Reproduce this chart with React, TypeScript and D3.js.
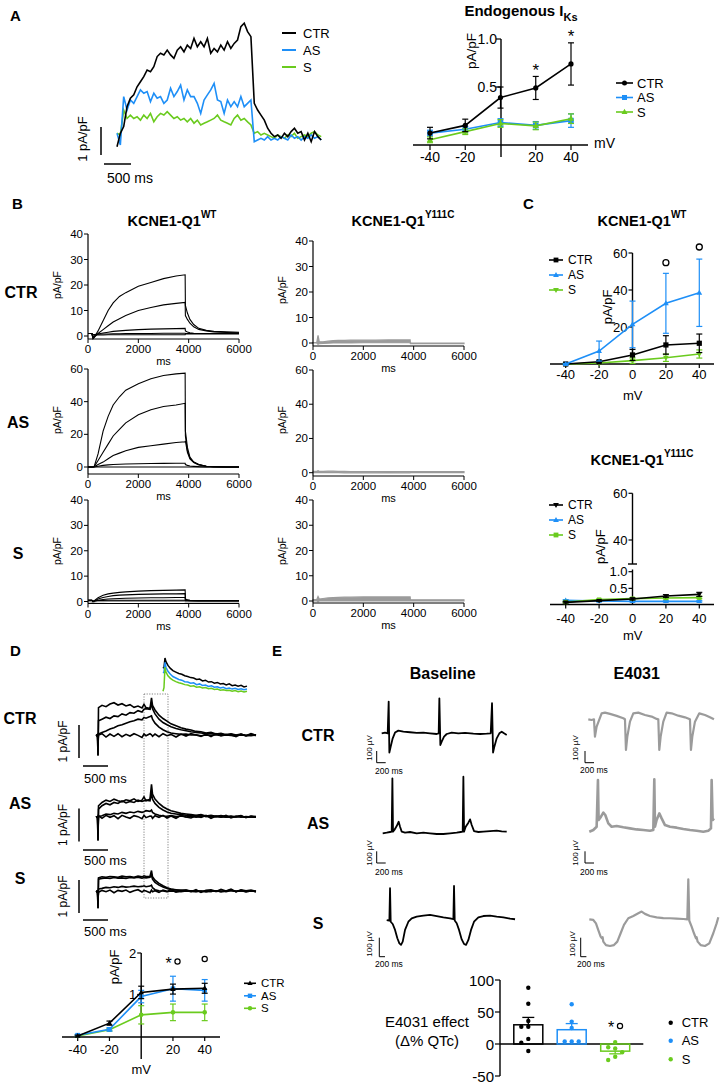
import React from "react";
import * as d3 from "d3";

const FONT = "'Liberation Sans', Arial, Helvetica, sans-serif";
const BLACK = "#000000";
const BLUE = "#1e8ff7";
const GREEN = "#6acb1e";
const GRAY = "#9b9b9b";

// ---------------- Panel A: endogenous IKs traces (pA/pF, sampled every 62 ms) ----------------
const A_STEP_MS = 62;
const A_TRACE_CTR = [-0.24, 0.24, 0.48, 1.19, 1.49, 1.61, 1.9, 2.08, 2.26, 2.5, 2.44, 2.62, 2.98, 3.1, 3.04, 3.21, 3.04, 2.92, 3.21, 3.33, 3.15, 3.39, 3.27, 3.63, 3.33, 3.51, 3.33, 3.63, 3.1, 3.27, 3.15, 3.39, 3.21, 3.51, 3.27, 3.45, 3.57, 4.05, 4.17, 3.87, 3.69, 1.31, 1.07, 0.89, 0.71, 0.42, 0.24, 0.12, 0.18, 0.06, 0.24, 0.12, 0.3, 0.42, 0.24, 0.3, 0, 0.24, -0.06, 0.3, 0.12, 0];
const A_TRACE_AS = [0.24, -0.18, 1.55, 1.07, 1.43, 1.31, 1.55, 1.79, 1.67, 1.73, 1.37, 1.67, 1.49, 1.55, 1.31, 1.43, 1.85, 1.55, 1.73, 1.96, 1.43, 1.79, 1.55, 1.55, 1.31, 0.95, 1.43, 1.61, 1.79, 2.02, 1.43, 1.37, 0.95, 1.43, 1.19, 1.37, 1.19, 1.55, 1.19, 1.31, 1.43, -0.06, 0, 0.06, 0, 0.12, 0, 0.06, 0, 0.12, 0.06, 0, 0.18, 0.06, 0.12, 0, 0.12, 0.06, 0.18, 0.06, 0.12, 0];
const A_TRACE_S = [0.24, 0.18, 1.07, 0.77, 0.89, 0.77, 0.83, 0.71, 0.89, 0.77, 0.95, 0.65, 0.83, 0.95, 0.89, 1.01, 0.89, 0.77, 0.83, 0.71, 0.77, 0.65, 0.77, 0.6, 0.71, 0.54, 0.6, 0.65, 0.71, 0.77, 0.89, 0.71, 0.65, 0.6, 0.54, 0.77, 0.89, 0.71, 0.77, 0.65, 0.54, 0.24, 0.3, 0.18, 0.24, 0.18, 0.12, 0.06, 0.18, 0.12, 0.06, 0.18, 0.12, 0.24, 0.06, 0.12, 0.18, 0.12, 0.24, 0.3, 0.18, 0.12];

const IV_MV = [-40, -20, 0, 20, 40];
const IV_X_TICKS = [-40, -20, 20, 40];
const A_IV_CTR = [0.02, 0.1, 0.39, 0.49, 0.74];
const A_IV_CTR_ERR = [0.06, 0.065, 0.11, 0.12, 0.22];
const A_IV_AS = [0.02, 0.06, 0.13, 0.1, 0.15];
const A_IV_AS_ERR = [0.03, 0.03, 0.04, 0.04, 0.07];
const A_IV_S = [-0.05, 0.035, 0.12, 0.095, 0.17];
const A_IV_S_ERR = [0.03, 0.03, 0.04, 0.04, 0.05];
const A_Y_TICKS = [0.5, 1.0];

// ---------------- Panel B: KCNQ1 current families (pA/pF) ----------------
const B_T = [0, 150, 200, 250, 400, 600, 800, 1000, 1250, 1500, 2000, 2500, 3000, 3500, 3860, 3870, 3950, 4050, 4200, 4400, 4700, 5000, 5500, 6000];
const B_X_TICKS = [0, 2000, 4000, 6000];
const B_CTR_WT = [
  [1, 1, -1, -0.5, 2, 6, 10, 13, 15.5, 17, 19.5, 21, 22.5, 23.5, 24, 12, 9, 6.5, 4.5, 3, 2.2, 1.8, 1.6, 1.5],
  [1, 1, -1, -0.5, 1, 2.5, 4, 5.5, 6.8, 8, 10, 11.2, 12.2, 12.8, 13.2, 8, 6.5, 5, 3.6, 2.6, 2, 1.6, 1.4, 1.3],
  [1, 1, -0.5, 0, 0.8, 1.2, 1.5, 1.8, 2, 2.2, 2.5, 2.7, 2.8, 2.9, 3, 2, 1.6, 1.3, 1.1, 1, 1, 1, 1, 1],
  [1, 1, 0.5, 0.6, 0.7, 0.8, 0.8, 0.9, 0.9, 1, 1, 1, 1.1, 1.1, 1.1, 1, 1, 1, 1, 1, 1, 1, 1, 1],
  [1, 1, 0.3, 0.4, 0.4, 0.4, 0.5, 0.5, 0.5, 0.5, 0.5, 0.5, 0.5, 0.5, 0.5, 0.8, 0.8, 0.8, 0.8, 0.8, 0.8, 0.8, 0.8, 0.8],
];
const B_AS_WT = [
  [0, 0, 0, 0.5, 8, 22, 31, 38, 43, 47, 51, 54, 56, 57, 57.5, 22, 12, 6, 3, 1.5, 0.5, 0.2, 0, 0],
  [0, 0, 0, 0.3, 4, 9, 14, 19, 23, 27, 32, 35, 37, 38, 39, 19, 10, 5.5, 3, 1.5, 0.5, 0.2, 0, 0],
  [0, 0, 0, 0.2, 1.5, 3, 5, 7, 8.5, 10, 12, 13, 14, 15, 15.5, 16, 9, 5, 2.8, 1.3, 0.5, 0.2, 0, 0],
  [0, 0, 0, 0, 0.5, 1, 1.3, 1.5, 1.7, 1.8, 2, 2.1, 2.2, 2.3, 2.3, 1.5, 1, 0.6, 0.4, 0.2, 0.1, 0, 0, 0],
  [0, 0, 0, 0, 0, 0, 0, 0, 0, 0, 0, 0, 0, 0, 0, 0, 0, 0, 0, 0, 0, 0, 0, 0],
];
const B_S_WT = [
  [0.5, 0.5, 0, 0.3, 1.5, 2.5, 3, 3.3, 3.6, 3.8, 4.1, 4.3, 4.4, 4.5, 4.6, 1, 0.7, 0.5, 0.4, 0.3, 0.3, 0.3, 0.3, 0.3],
  [0.5, 0.5, 0, 0.2, 1, 1.6, 2, 2.3, 2.5, 2.6, 2.8, 2.9, 3, 3, 3.1, 0.8, 0.6, 0.4, 0.3, 0.3, 0.3, 0.3, 0.3, 0.3],
  [0.5, 0.5, 0, 0.1, 0.5, 0.8, 1, 1.1, 1.2, 1.3, 1.4, 1.5, 1.5, 1.6, 1.6, 0.5, 0.4, 0.3, 0.3, 0.3, 0.3, 0.3, 0.3, 0.3],
  [0.5, 0.5, 0.2, 0.3, 0.4, 0.4, 0.5, 0.5, 0.5, 0.5, 0.5, 0.5, 0.5, 0.5, 0.5, 0.3, 0.3, 0.3, 0.3, 0.3, 0.3, 0.3, 0.3, 0.3],
];
const B_S_WT_GRAY = [0, 0, -0.5, 0, 0.1, 0.1, 0.2, 0.2, 0.2, 0.2, 0.2, 0.2, 0.2, 0.2, 0.2, 0, 0, 0, 0, 0, 0, 0, 0, 0];
const B_CTR_MUT_HI = [0.2, 0.3, 3, 0.5, 0.5, 0.7, 0.9, 1, 1, 1.1, 1.1, 1.1, 1.2, 1.2, 1.2, 0.1, 0, 0, 0, 0, 0, 0, 0, 0];
const B_CTR_MUT_LO = [0, 0, -0.5, -0.3, -0.2, -0.1, 0, 0, 0, 0, 0.1, 0.1, 0.1, 0.1, 0.1, -0.3, -0.3, -0.3, -0.3, -0.3, -0.3, -0.3, -0.3, -0.3];
const B_AS_MUT_HI = [0.8, 0.8, 1.2, 0.8, 0.8, 0.9, 0.9, 0.8, 0.8, 0.7, 0.7, 0.7, 0.6, 0.7, 0.7, 0.6, 0.6, 0.6, 0.6, 0.7, 0.7, 0.7, 0.7, 0.7];
const B_AS_MUT_LO = [0, 0, 0, 0, 0, 0, 0, 0, -0.1, -0.1, -0.1, -0.1, -0.1, -0.1, -0.1, 0, 0, 0, 0, 0, 0, 0, 0, 0];
const B_S_MUT_HI = [0.6, 0.6, 1.8, 0.8, 1, 1.2, 1.3, 1.4, 1.5, 1.5, 1.6, 1.6, 1.6, 1.6, 1.6, 0.6, 0.5, 0.5, 0.5, 0.5, 0.5, 0.5, 0.5, 0.5];
const B_S_MUT_LO = [0, 0, -0.3, 0, 0, 0, 0, 0, 0, 0, 0, 0, 0, 0, 0, 0, 0, 0, 0, 0, 0, 0, 0, 0];

// ---------------- Panel C: I-V (pA/pF) ----------------
const C_WT_CTR = [0, 1.2, 4.9, 10.3, 11.2];
const C_WT_CTR_ERR = [0.3, 0.5, 3, 5, 5];
const C_WT_AS = [0, 7, 21.4, 32.8, 38.5];
const C_WT_AS_ERR = [0.3, 5.4, 12.6, 16.2, 18.2];
const C_WT_S = [0, 0.5, 1.8, 3.4, 5.4];
const C_WT_S_ERR = [0.2, 0.4, 1.5, 2, 2.2];
const C_WT_Y_TICKS = [20, 40, 60];
const C_MUT_CTR = [0.08, 0.13, 0.18, 0.27, 0.32];
const C_MUT_CTR_ERR = [0.02, 0.02, 0.03, 0.04, 0.06];
const C_MUT_AS = [0.14, 0.12, 0.11, 0.11, 0.11];
const C_MUT_AS_ERR = [0.02, 0.02, 0.02, 0.02, 0.02];
const C_MUT_S = [0.09, 0.16, 0.19, 0.21, 0.22];
const C_MUT_S_ERR = [0.02, 0.02, 0.02, 0.03, 0.03];
const C_MUT_LOW_TICKS = [0.5, 1.0];
const C_MUT_HIGH_TICKS = [40, 60];

// ---------------- Panel D: dynamic-clamp IKs traces (pA/pF) ----------------
const D_T = [0, 30, 40, 50, 120, 200, 280, 360, 440, 520, 600, 680, 760, 840, 920, 960, 1000, 1080, 1110, 1130, 1180, 1260, 1340, 1420, 1500, 1600, 1700, 1800, 1900, 2000, 2100, 2200, 2300, 2400, 2500, 2600, 2700, 2800, 2900, 3000, 3100, 3200];
const D_CTR = [
  [0, 0.02, -0.6, 0.85, 0.92, 0.88, 0.96, 1.0, 0.93, 0.97, 0.9, 0.94, 0.86, 0.9, 0.84, 0.95, 0.85, 0.82, 1.15, 0.92, 0.78, 0.62, 0.52, 0.44, 0.36, 0.3, 0.24, 0.2, 0.17, 0.13, 0.12, 0.08, 0.1, 0.05, 0.07, 0.03, 0.06, 0.02, 0.05, 0.0, 0.04, 0.02],
  [0, 0.02, -0.6, 0.45, 0.5, 0.56, 0.52, 0.6, 0.58, 0.66, 0.62, 0.7, 0.68, 0.76, 0.72, 0.8, 0.82, 0.8, 0.98, 0.82, 0.66, 0.5, 0.4, 0.33, 0.27, 0.22, 0.18, 0.15, 0.12, 0.1, 0.08, 0.06, 0.07, 0.04, 0.05, 0.02, 0.04, 0.01, 0.03, 0.0, 0.02, 0.01],
  [0, 0.02, -0.3, 0.05, 0.1, 0.14, 0.2, 0.24, 0.3, 0.33, 0.38, 0.42, 0.45, 0.5, 0.48, 0.55, 0.53, 0.58, 0.6, 0.5, 0.38, 0.26, 0.18, 0.12, 0.08, 0.06, 0.04, 0.05, 0.02, 0.03, 0.0, 0.02, 0.01, 0.03, 0.0, 0.02, 0.01, 0.0, 0.02, 0.01, 0.0, 0.02],
  [0, 0.04, -0.15, 0.02, 0.06, -0.04, 0.05, -0.02, 0.06, -0.03, 0.04, -0.01, 0.06, 0.01, -0.05, 0.05, 0, 0.06, 0.03, -0.02, 0.05, -0.03, 0.06, 0, 0.04, -0.04, 0.05, -0.01, 0.06, 0.02, -0.02, 0.05, -0.03, 0.06, 0, 0.04, 0.02, -0.03, 0.05, 0, 0.06, 0.01],
];
const D_AS = [
  [0, 0.02, -0.7, 0.35, 0.45, 0.52, 0.48, 0.55, 0.5, 0.47, 0.53, 0.5, 0.56, 0.48, 0.52, 0.62, 0.5, 0.55, 1.0, 0.7, 0.55, 0.42, 0.32, 0.25, 0.2, 0.16, 0.12, 0.1, 0.08, 0.06, 0.08, 0.04, 0.06, 0.03, 0.05, 0.02, 0.04, 0.01, 0.03, 0.0, 0.02, 0.01],
  [0, 0.02, -0.7, 0.25, 0.35, 0.42, 0.38, 0.45, 0.42, 0.5, 0.44, 0.48, 0.45, 0.52, 0.48, 0.5, 0.52, 0.5, 0.75, 0.55, 0.42, 0.3, 0.22, 0.16, 0.12, 0.1, 0.08, 0.06, 0.05, 0.04, 0.06, 0.02, 0.04, 0.01, 0.03, 0.0, 0.02, 0.01, 0.03, 0.0, 0.02, 0.01],
  [0, 0.02, -0.4, 0.02, 0.05, 0.1, 0.08, 0.12, 0.1, 0.15, 0.12, 0.16, 0.14, 0.18, 0.15, 0.17, 0.2, 0.18, 0.22, 0.15, 0.1, 0.06, 0.04, 0.03, 0.05, 0.02, 0.04, 0.01, 0.03, 0.0, 0.02, 0.04, 0.01, 0.03, 0.0, 0.02, 0.01, 0.03, 0.0, 0.02, 0.01, 0.0],
  [0, 0.03, -0.2, 0.05, -0.03, 0.06, 0, 0.05, -0.04, 0.06, 0.01, -0.03, 0.05, 0.02, -0.04, 0.06, -0.01, 0.04, 0.03, -0.03, 0.05, 0, 0.06, -0.02, 0.04, -0.03, 0.06, 0.01, -0.02, 0.05, 0, 0.06, -0.03, 0.04, 0.01, 0.06, -0.02, 0.03, 0.05, -0.01, 0.04, 0.02],
];
const D_S = [
  [0, 0.02, -0.5, 0.42, 0.45, 0.44, 0.46, 0.45, 0.44, 0.47, 0.45, 0.46, 0.44, 0.47, 0.45, 0.48, 0.46, 0.47, 0.64, 0.45, 0.35, 0.25, 0.18, 0.12, 0.08, 0.06, 0.04, 0.05, 0.02, 0.03, 0.0, 0.02, 0.01, 0.03, 0.0, 0.02, 0.05, 0.0, 0.04, 0.01, 0.03, 0.0],
  [0, 0.02, -0.5, 0.38, 0.4, 0.42, 0.4, 0.43, 0.41, 0.42, 0.4, 0.43, 0.42, 0.44, 0.41, 0.43, 0.42, 0.44, 0.5, 0.38, 0.28, 0.2, 0.14, 0.1, 0.07, 0.05, 0.04, 0.02, 0.03, 0.01, 0.02, 0.0, 0.03, 0.01, 0.02, 0.0, 0.04, 0.01, 0.03, 0.0, 0.02, 0.01],
  [0, 0.02, -0.3, 0.08, 0.1, 0.13, 0.12, 0.15, 0.13, 0.16, 0.14, 0.15, 0.17, 0.15, 0.16, 0.18, 0.15, 0.17, 0.2, 0.12, 0.06, 0.03, 0.02, 0.0, 0.02, 0.01, 0.0, 0.02, 0.01, 0.0, 0.02, 0.0, 0.01, 0.03, 0.0, 0.02, 0.04, 0.01, 0.03, 0.0, 0.02, 0.01],
  [0, 0.02, -0.2, -0.02, 0.04, 0, 0.05, -0.03, 0.04, 0.01, 0.05, -0.02, 0.03, 0.06, -0.01, 0.04, 0.02, -0.03, 0.05, 0, 0.03, -0.02, 0.05, 0.01, 0.06, -0.01, 0.03, 0.05, 0, 0.06, -0.02, 0.04, 0.06, 0.01, 0.07, 0.02, 0.08, 0, 0.06, 0.03, 0.05, 0.01],
];
const D_INSET_T = [0, 20, 40, 60, 100, 150, 200, 260, 320, 380, 440, 500, 560, 620, 680, 740, 800, 860, 920, 980, 1040, 1100, 1160, 1220, 1280, 1340, 1400, 1460, 1520, 1580, 1640, 1700];
const D_INSET_CTR = [0.72, 0.75, 1.0, 0.9, 0.8, 0.72, 0.66, 0.62, 0.58, 0.56, 0.52, 0.5, 0.47, 0.46, 0.42, 0.43, 0.38, 0.4, 0.35, 0.36, 0.32, 0.34, 0.3, 0.31, 0.27, 0.3, 0.25, 0.27, 0.24, 0.26, 0.22, 0.24];
const D_INSET_AS = [0.6, 0.62, 0.88, 0.75, 0.64, 0.56, 0.5, 0.46, 0.42, 0.4, 0.36, 0.35, 0.32, 0.33, 0.28, 0.3, 0.26, 0.27, 0.23, 0.25, 0.21, 0.22, 0.19, 0.21, 0.17, 0.19, 0.16, 0.18, 0.15, 0.17, 0.14, 0.16];
const D_INSET_S = [0.1, 0.2, 0.75, 0.62, 0.52, 0.45, 0.4, 0.36, 0.33, 0.31, 0.28, 0.27, 0.24, 0.25, 0.21, 0.22, 0.19, 0.2, 0.17, 0.18, 0.15, 0.16, 0.13, 0.14, 0.12, 0.13, 0.1, 0.12, 0.09, 0.11, 0.08, 0.1];
const D_IV_CTR = [0, 0.31, 1.05, 1.13, 1.15];
const D_IV_CTR_ERR = [0.02, 0.05, 0.15, 0.12, 0.12];
const D_IV_AS = [0.02, 0.16, 0.95, 1.14, 1.1];
const D_IV_AS_ERR = [0.02, 0.04, 0.15, 0.3, 0.26];
const D_IV_S = [0, 0.15, 0.51, 0.57, 0.57];
const D_IV_S_ERR = [0.02, 0.03, 0.22, 0.2, 0.2];
const D_Y_TICKS = [1, 2];

// ---------------- Panel E: field potentials (ms, µV) ----------------
const E_BASE_CTR_T = [0, 74, 133, 155, 170, 200, 244, 296, 370, 481, 629, 777, 925, 1073, 1221, 1265, 1280, 1302, 1332, 1384, 1443, 1554, 1702, 1850, 2035, 2183, 2331, 2420, 2449, 2472, 2501, 2553, 2612, 2664, 2716, 2775];
const E_BASE_CTR_V = [0, 6, 0, 271, -165, -114, -43, 6, 23, 14, 9, 3, 6, 0, -6, 0, 299, -100, -71, -29, -6, 6, 0, 3, -3, -6, -3, 0, 257, -165, -114, -43, 0, 14, 0, -14];
const E_DRUG_CTR_T = [0, 74, 126, 148, 185, 296, 370, 481, 629, 777, 814, 836, 866, 925, 999, 1110, 1258, 1406, 1517, 1554, 1576, 1606, 1665, 1739, 1850, 1998, 2146, 2257, 2279, 2309, 2368, 2464, 2590, 2701, 2790];
const E_DRUG_CTR_V = [0, -6, 0, -148, -63, 51, 57, 46, 29, 9, 0, -262, -148, -20, 51, 57, 37, 23, 3, 0, -262, -148, -20, 57, 51, 31, 17, 0, -262, -148, -20, 51, 37, 17, 0];
const E_BASE_AS_T = [0, 89, 163, 200, 215, 229, 259, 311, 355, 385, 422, 496, 607, 755, 903, 1051, 1199, 1347, 1495, 1643, 1732, 1776, 1791, 1806, 1843, 1902, 1939, 1976, 2028, 2124, 2235, 2383, 2531, 2642, 2753];
const E_BASE_AS_V = [-6, 0, 6, 9, 465, 9, 23, 57, 94, 51, 9, 0, 6, -6, 0, -6, -11, -11, -6, 0, 6, 9, 479, 9, 51, 86, 114, 66, 14, 6, 9, 14, 17, 11, 9];
const E_DRUG_AS_T = [0, 89, 163, 192, 207, 259, 311, 355, 422, 496, 607, 755, 903, 1051, 1199, 1347, 1421, 1443, 1458, 1495, 1554, 1606, 1680, 1791, 1939, 2087, 2235, 2383, 2531, 2642, 2701, 2716, 2738, 2768];
const E_DRUG_AS_V = [-9, 6, 34, 433, 91, 120, 154, 134, 63, 34, 40, 29, 20, 11, 6, 0, 6, 439, 34, 91, 148, 105, 48, 34, 26, 14, 6, 0, -9, 0, 20, 433, 91, 105];
const E_BASE_S_T = [0, 94, 117, 140, 211, 293, 374, 445, 503, 562, 644, 761, 878, 1053, 1287, 1521, 1755, 1989, 2223, 2340, 2363, 2387, 2457, 2539, 2633, 2714, 2785, 2867, 2960, 3065, 3218, 3393, 3627, 3861, 4095, 4329, 4505];
const E_BASE_S_V = [-9, -12, 158, -18, -30, -61, -105, -132, -140, -123, -61, -18, 0, 9, 14, 18, 12, 5, 0, -4, 170, -12, -26, -61, -111, -135, -140, -114, -61, -18, 5, 12, 14, 9, 5, -2, -5];
const E_DRUG_S_T = [0, 140, 234, 316, 398, 445, 468, 491, 585, 725, 866, 983, 1100, 1217, 1369, 1544, 1720, 1837, 1954, 2129, 2363, 2597, 2831, 3065, 3299, 3440, 3475, 3510, 3592, 3674, 3744, 3767, 3803, 3908, 4060, 4212, 4352, 4469, 4528];
const E_DRUG_S_V = [-11, -14, -32, -67, -102, -111, -105, -128, -146, -151, -146, -128, -84, -40, -5, 7, 21, 30, 18, 7, 0, -4, -5, -7, -9, -11, 200, -18, -49, -84, -111, -105, -128, -146, -151, -137, -84, -32, 0];

// E4031 effect (Δ% QTc), individual wells
const E_QTC_CTR = [88, 63, 36, 27, 27, 8, 2, -11];
const E_QTC_AS = [62, 35, 25, 4, 4, 4];
const E_QTC_S = [3, -5, -7, -13, -20, -25];
const E_Y_TICKS = [100, 50, 0, -50];

const GROUPS = ["CTR", "AS", "S"];
const GROUP_COLORS = [BLACK, BLUE, GREEN];

type P = [number, number];

function Txt({ x, y, size = 12, anchor = "start", weight = "normal", rotate = 0, fill = "#000", baseline = "central", children }: any) {
  return (
    <text x={x} y={y} fontSize={size} fontFamily={FONT} fontWeight={weight} textAnchor={anchor}
      dominantBaseline={baseline} fill={fill} transform={rotate ? `rotate(${rotate},${x},${y})` : undefined}>
      {children}
    </text>
  );
}

function Marker({ shape, x, y, color, s = 3 }: any) {
  if (shape === "circle") return <circle cx={x} cy={y} r={s} fill={color} />;
  if (shape === "square") return <rect x={x - s} y={y - s} width={2 * s} height={2 * s} fill={color} />;
  if (shape === "up") return <path d={`M${x},${y - s * 1.3}L${x + s * 1.2},${y + s * 0.8}L${x - s * 1.2},${y + s * 0.8}Z`} fill={color} />;
  if (shape === "down") return <path d={`M${x},${y + s * 1.3}L${x + s * 1.2},${y - s * 0.8}L${x - s * 1.2},${y - s * 0.8}Z`} fill={color} />;
  return null;
}

function IVSeries({ xs, ys, errs, xS, yS, color, shape, s = 3, cap = 6, sw = 1.6 }: any) {
  const pts: P[] = xs.map((x: number, i: number) => [xS(x), yS(ys[i])] as P);
  return (
    <g>
      <path d={d3.line()(pts) || ""} fill="none" stroke={color} strokeWidth={sw} />
      {xs.map((x: number, i: number) => {
        const cx = xS(x);
        const a = yS(ys[i] - errs[i]);
        const b = yS(ys[i] + errs[i]);
        return (
          <g key={i} stroke={color} strokeWidth={1.2}>
            <line x1={cx} x2={cx} y1={a} y2={b} />
            <line x1={cx - cap / 2} x2={cx + cap / 2} y1={a} y2={a} />
            <line x1={cx - cap / 2} x2={cx + cap / 2} y1={b} y2={b} />
          </g>
        );
      })}
      {pts.map((p, i) => <Marker key={i} shape={shape} x={p[0]} y={p[1]} color={color} s={s} />)}
    </g>
  );
}

function LegendRow({ x1, x2, tx, y, color, shape, label, size = 12, s = 2.6, sw = 1.6 }: any) {
  return (
    <g>
      <line x1={x1} x2={x2} y1={y} y2={y} stroke={color} strokeWidth={sw} />
      {shape && <Marker shape={shape} x={(x1 + x2) / 2} y={y} color={color} s={s} />}
      <Txt x={tx} y={y} size={size}>{label}</Txt>
    </g>
  );
}

function tracePath(ts: number[], vs: number[], xS: any, yS: any) {
  const n = Math.min(ts.length, vs.length);
  const pts: P[] = [];
  for (let i = 0; i < n; i++) pts.push([xS(ts[i]), yS(vs[i])]);
  return d3.line()(pts) || "";
}

function BPlot({ x0, x1, y0, yTop, yMax, axisY, yTicks, traces, bands, grayLine, labelRowY }: any) {
  const xS = d3.scaleLinear().domain([0, 6000]).range([x0, x1]);
  const yS = d3.scaleLinear().domain([0, yMax]).range([y0, yTop]);
  const area = (lo: number[], hi: number[]) =>
    d3.area<number>().x((_, i) => xS(B_T[i])).y0((_, i) => yS(lo[i])).y1((_, i) => yS(hi[i]))(lo) || "";
  return (
    <g>
      {bands && bands.map((b: any, i: number) => (
        <g key={i}>
          <path d={area(b[0], b[1])} fill={GRAY} stroke={GRAY} strokeWidth={1.2} />
        </g>
      ))}
      {grayLine && <path d={tracePath(B_T, grayLine, xS, yS)} fill="none" stroke={GRAY} strokeWidth={2} />}
      {traces && traces.map((tr: number[], i: number) => (
        <path key={i} d={tracePath(B_T, tr, xS, yS)} fill="none" stroke={BLACK} strokeWidth={1.1} />
      ))}
      <line x1={x0} x2={x0} y1={yTop} y2={axisY} stroke={BLACK} strokeWidth={1.2} />
      <line x1={x0} x2={x1} y1={axisY} y2={axisY} stroke={BLACK} strokeWidth={1.2} />
      {yTicks.map((t: number) => (
        <g key={t}>
          <line x1={x0 - 4} x2={x0} y1={yS(t)} y2={yS(t)} stroke={BLACK} strokeWidth={1} />
          <Txt x={x0 - 5} y={yS(t)} size={11.5} anchor="end">{t}</Txt>
        </g>
      ))}
      {B_X_TICKS.map((t) => (
        <g key={t}>
          <line x1={xS(t)} x2={xS(t)} y1={axisY} y2={axisY + 4} stroke={BLACK} strokeWidth={1} />
          <Txt x={xS(t)} y={axisY + 10} size={11.5} anchor="middle">{t}</Txt>
        </g>
      ))}
      <Txt x={(x0 + x1) / 2} y={axisY + 22} size={11} anchor="middle">ms</Txt>
      <Txt x={x0 - 31} y={labelRowY} size={10.5} anchor="middle" rotate={-90}>pA/pF</Txt>
    </g>
  );
}

function swarm(vals: number[], yS: any, cx: number) {
  const placed: P[] = [];
  const offs = [0, -7, 7, -14, 14];
  return vals.map((v) => {
    const y = yS(v);
    for (const o of offs) {
      if (placed.every((p) => Math.hypot(p[0] - (cx + o), p[1] - y) > 5.5)) {
        placed.push([cx + o, y]);
        return [cx + o, y] as P;
      }
    }
    placed.push([cx, y]);
    return [cx, y] as P;
  });
}

export default function App() {
  // ---------- A left ----------
  const axT = d3.scaleLinear().domain([0, 500]).range([117, 144]);
  const ayT = d3.scaleLinear().domain([0, 1]).range([140, 112]);
  const aTimes = A_TRACE_CTR.map((_, i) => i * A_STEP_MS);

  // ---------- A right ----------
  const axIV = d3.scaleLinear().domain([-40, 40]).range([430, 571]);
  const ayIV = d3.scaleLinear().domain([0, 1]).range([135, 39]);

  // ---------- C ----------
  const xC = d3.scaleLinear().domain([-40, 40]).range([565.7, 699.3]);
  const yCt = d3.scaleLinear().domain([0, 60]).range([364, 253]);
  const yCb = d3.scaleLinear().domain([0, 1]).range([605, 571.7]);
  const yCbHigh = d3.scaleLinear().domain([40, 60]).range([540, 493.3]);

  // ---------- D ----------
  const xDt = d3.scaleLinear().domain([0, 3200]).range([96, 256]);
  const dRows = [
    { data: D_CTR, base: 735.7 },
    { data: D_AS, base: 817.3 },
    { data: D_S, base: 891.7 },
  ];
  const dBarV = [[725, 758], [808.5, 841.5], [880, 913]];
  const dBarH = [766, 850, 920];
  const dMsY = [778, 860.7, 931.7];
  const dLblY = [741.5, 825, 896.5];
  const dRowLblY = [718, 803, 878];
  const xIn = d3.scaleLinear().domain([0, 1700]).range([163, 247]);
  const yIn = d3.scaleLinear().domain([0, 1]).range([695, 658]);
  const xD = d3.scaleLinear().domain([-40, 40]).range([77.7, 204.7]);
  const yD = d3.scaleLinear().domain([0, 2]).range([1036, 953]);

  // ---------- E ----------
  const ecg = [
    { t: E_BASE_CTR_T, v: E_BASE_CTR_V, x0: 381.7, y0: 733.3, msPx: 22.2, uvPx: 8.55, color: BLACK, sw: 1.8 },
    { t: E_DRUG_CTR_T, v: E_DRUG_CTR_V, x0: 588.3, y0: 719.3, msPx: 22.2, uvPx: 8.55, color: GRAY, sw: 2.2 },
    { t: E_BASE_AS_T, v: E_BASE_AS_V, x0: 382.7, y0: 832.7, msPx: 22.2, uvPx: 8.55, color: BLACK, sw: 1.8 },
    { t: E_DRUG_AS_T, v: E_DRUG_AS_V, x0: 589.3, y0: 830.7, msPx: 22.2, uvPx: 8.55, color: GRAY, sw: 2.6 },
    { t: E_BASE_S_T, v: E_BASE_S_V, x0: 386.7, y0: 918.3, msPx: 35.1, uvPx: 5.26, color: BLACK, sw: 1.8 },
    { t: E_DRUG_S_T, v: E_DRUG_S_V, x0: 589.3, y0: 917.3, msPx: 35.1, uvPx: 5.26, color: GRAY, sw: 2.2 },
  ];
  const eBars = [
    { x: 376.7, yb: 762.7, msPx: 22.2, uvPx: 8.55, tx: 369, ty: 748, mx: 375, my: 771 },
    { x: 585, yb: 762.7, msPx: 22.2, uvPx: 8.55, tx: 575, ty: 748, mx: 580, my: 770 },
    { x: 376.7, yb: 863, msPx: 22.2, uvPx: 8.55, tx: 369, ty: 853, mx: 375, my: 871.7 },
    { x: 585, yb: 863, msPx: 22.2, uvPx: 8.55, tx: 575, ty: 853, mx: 580, my: 871.7 },
    { x: 379.3, yb: 956.7, msPx: 35.1, uvPx: 5.26, tx: 369, ty: 944, mx: 375, my: 964 },
    { x: 580.7, yb: 956.7, msPx: 35.1, uvPx: 5.26, tx: 572, ty: 944, mx: 577, my: 964 },
  ];
  const yE = d3.scaleLinear().domain([-50, 100]).range([1076, 980]);
  const eGroups = [E_QTC_CTR, E_QTC_AS, E_QTC_S];
  const eCenters = [528.3, 571.7, 615.2];
  const eBarW = 29;

  return (
    <svg width={720} height={1083} viewBox="0 0 720 1083" style={{ position: "absolute", left: 0, top: 0, background: "#fff" }}>
      <rect x={0} y={0} width={720} height={1083} fill="#fff" />

      {/* ================= Panel A ================= */}
      <Txt x={10} y={15} size={15} weight="bold">A</Txt>
      {[A_TRACE_S, A_TRACE_AS, A_TRACE_CTR].map((tr, k) => (
        <path key={k} d={tracePath(aTimes, tr, axT, ayT)} fill="none" stroke={[GREEN, BLUE, BLACK][k]} strokeWidth={1.6} />
      ))}
      <line x1={101} x2={101} y1={ayT(0.46)} y2={ayT(-0.54)} stroke={BLACK} strokeWidth={1.5} />
      <line x1={104} x2={104 + axT(500) - axT(0)} y1={164} y2={164} stroke={BLACK} strokeWidth={1.5} />
      <Txt x={82} y={139} size={13} anchor="middle" rotate={-90}>1 pA/pF</Txt>
      <Txt x={107} y={178} size={14}>500 ms</Txt>
      {GROUPS.map((g, i) => (
        <LegendRow key={g} x1={282} x2={296} tx={303} y={33 + i * 17} color={GROUP_COLORS[i]} label={g} size={13} sw={2} />
      ))}

      <text x={521} y={16} fontSize={15} fontWeight="bold" fontFamily={FONT} textAnchor="middle">
        <tspan>Endogenous I</tspan>
        <tspan dy={5} fontSize={11}>Ks</tspan>
      </text>
      <line x1={413} x2={588} y1={145} y2={145} stroke={BLACK} strokeWidth={1.4} />
      <line x1={501} x2={501} y1={39} y2={157} stroke={BLACK} strokeWidth={1.4} />
      {IV_X_TICKS.map((t) => (
        <g key={t}>
          <line x1={axIV(t)} x2={axIV(t)} y1={145} y2={150} stroke={BLACK} strokeWidth={1.2} />
          <Txt x={axIV(t)} y={157} size={14} anchor="middle">{t}</Txt>
        </g>
      ))}
      {A_Y_TICKS.map((t) => (
        <g key={t}>
          <line x1={496} x2={501} y1={ayIV(t)} y2={ayIV(t)} stroke={BLACK} strokeWidth={1.2} />
          <Txt x={497} y={ayIV(t)} size={14} anchor="end">{t.toFixed(1)}</Txt>
        </g>
      ))}
      <Txt x={471} y={51} size={13.5} anchor="middle" rotate={-90}>pA/pF</Txt>
      <Txt x={594} y={143} size={14}>mV</Txt>
      <IVSeries xs={IV_MV} ys={A_IV_AS} errs={A_IV_AS_ERR} xS={axIV} yS={ayIV} color={BLUE} shape="square" s={2.8} />
      <IVSeries xs={IV_MV} ys={A_IV_S} errs={A_IV_S_ERR} xS={axIV} yS={ayIV} color={GREEN} shape="up" s={2.6} />
      <IVSeries xs={IV_MV} ys={A_IV_CTR} errs={A_IV_CTR_ERR} xS={axIV} yS={ayIV} color={BLACK} shape="circle" s={2.6} />
      <Txt x={axIV(20)} y={76} size={17} anchor="middle" baseline="auto">*</Txt>
      <Txt x={axIV(40)} y={42} size={17} anchor="middle" baseline="auto">*</Txt>
      {GROUPS.map((g, i) => (
        <LegendRow key={g} x1={616} x2={633} tx={637} y={83 + i * 14.5} color={GROUP_COLORS[i]}
          shape={["circle", "square", "up"][i]} label={g} size={13} s={2.5} />
      ))}

      {/* ================= Panel B ================= */}
      <Txt x={12} y={203} size={15} weight="bold">B</Txt>
      <text x={172} y={226} fontSize={14.5} fontWeight="bold" fontFamily={FONT} textAnchor="middle">
        <tspan>KCNE1-Q1</tspan><tspan dy={-8} fontSize={10}>WT</tspan>
      </text>
      <text x={403} y={226} fontSize={14.5} fontWeight="bold" fontFamily={FONT} textAnchor="middle">
        <tspan>KCNE1-Q1</tspan><tspan dy={-8} fontSize={10}>Y111C</tspan>
      </text>
      <Txt x={21} y={292} size={16} weight="bold" anchor="middle">CTR</Txt>
      <Txt x={18} y={422} size={16} weight="bold" anchor="middle">AS</Txt>
      <Txt x={18} y={553} size={16} weight="bold" anchor="middle">S</Txt>

      <BPlot x0={88} x1={239} y0={336} yTop={234} yMax={40} axisY={339} yTicks={[0, 10, 20, 30, 40]} traces={B_CTR_WT} labelRowY={285} />
      <BPlot x0={313} x1={464} y0={343} yTop={241} yMax={40} axisY={346} yTicks={[0, 10, 20, 30, 40]}
        bands={[[B_CTR_MUT_LO, B_CTR_MUT_HI]]} labelRowY={290} />
      <BPlot x0={88} x1={239} y0={467} yTop={369} yMax={60} axisY={474} yTicks={[0, 20, 40, 60]} traces={B_AS_WT} labelRowY={420} />
      <BPlot x0={313} x1={464} y0={472.7} yTop={370} yMax={60} axisY={476} yTicks={[0, 20, 40, 60]}
        bands={[[B_AS_MUT_LO, B_AS_MUT_HI]]} labelRowY={420} />
      <BPlot x0={88} x1={239} y0={601.5} yTop={500} yMax={40} axisY={603.5} yTicks={[0, 10, 20, 30, 40]} traces={B_S_WT}
        grayLine={B_S_WT_GRAY} labelRowY={551} />
      <BPlot x0={313} x1={464} y0={601} yTop={500} yMax={40} axisY={603} yTicks={[0, 10, 20, 30, 40]}
        bands={[[B_S_MUT_LO, B_S_MUT_HI]]} labelRowY={551} />

      {/* ================= Panel C ================= */}
      <Txt x={523} y={203} size={15} weight="bold">C</Txt>
      <text x={642} y={226} fontSize={14.5} fontWeight="bold" fontFamily={FONT} textAnchor="middle">
        <tspan>KCNE1-Q1</tspan><tspan dy={-8} fontSize={10}>WT</tspan>
      </text>
      <line x1={550} x2={714} y1={364} y2={364} stroke={BLACK} strokeWidth={1.4} />
      <line x1={xC(0)} x2={xC(0)} y1={253} y2={364} stroke={BLACK} strokeWidth={1.4} />
      {IV_X_TICKS.map((t) => (
        <line key={t} x1={xC(t)} x2={xC(t)} y1={364} y2={368} stroke={BLACK} strokeWidth={1.2} />
      ))}
      {IV_MV.map((t) => (
        <Txt key={t} x={xC(t)} y={374} size={13} anchor="middle">{t}</Txt>
      ))}
      {C_WT_Y_TICKS.map((t) => (
        <g key={t}>
          <line x1={xC(0) - 4} x2={xC(0)} y1={yCt(t)} y2={yCt(t)} stroke={BLACK} strokeWidth={1.2} />
          <Txt x={xC(0) - 5} y={yCt(t)} size={13} anchor="end">{t}</Txt>
        </g>
      ))}
      <Txt x={607} y={307} size={13} anchor="middle" rotate={-90}>pA/pF</Txt>
      <Txt x={632.7} y={395} size={13} anchor="middle">mV</Txt>
      <IVSeries xs={IV_MV} ys={C_WT_S} errs={C_WT_S_ERR} xS={xC} yS={yCt} color={GREEN} shape="down" s={2.4} />
      <IVSeries xs={IV_MV} ys={C_WT_CTR} errs={C_WT_CTR_ERR} xS={xC} yS={yCt} color={BLACK} shape="square" s={2.6} />
      <IVSeries xs={IV_MV} ys={C_WT_AS} errs={C_WT_AS_ERR} xS={xC} yS={yCt} color={BLUE} shape="up" s={2.4} />
      <circle cx={xC(20)} cy={262.7} r={3} fill="none" stroke={BLACK} strokeWidth={1.3} />
      <circle cx={xC(40)} cy={247} r={3} fill="none" stroke={BLACK} strokeWidth={1.3} />
      {GROUPS.map((g, i) => (
        <LegendRow key={g} x1={549} x2={563} tx={568} y={260 + i * 15} color={GROUP_COLORS[i]}
          shape={["square", "up", "down"][i]} label={g} size={12} s={2.4} />
      ))}

      <text x={642} y={465} fontSize={14.5} fontWeight="bold" fontFamily={FONT} textAnchor="middle">
        <tspan>KCNE1-Q1</tspan><tspan dy={-8} fontSize={10}>Y111C</tspan>
      </text>
      <line x1={550} x2={714} y1={604.5} y2={604.5} stroke={BLACK} strokeWidth={1.4} />
      <line x1={xC(0)} x2={xC(0)} y1={569.5} y2={604.5} stroke={BLACK} strokeWidth={1.4} />
      <line x1={xC(0)} x2={xC(0)} y1={yCbHigh(60)} y2={564} stroke={BLACK} strokeWidth={1.4} />
      <line x1={xC(0) - 4.5} x2={xC(0) + 4.5} y1={564} y2={564} stroke={BLACK} strokeWidth={1.4} />
      {IV_X_TICKS.map((t) => (
        <line key={t} x1={xC(t)} x2={xC(t)} y1={604.5} y2={608.5} stroke={BLACK} strokeWidth={1.2} />
      ))}
      {IV_MV.map((t) => (
        <Txt key={t} x={xC(t)} y={618} size={13} anchor="middle">{t}</Txt>
      ))}
      {C_MUT_LOW_TICKS.map((t) => (
        <g key={t}>
          <line x1={xC(0) - 4} x2={xC(0)} y1={yCb(t)} y2={yCb(t)} stroke={BLACK} strokeWidth={1.2} />
          <Txt x={xC(0) - 5} y={yCb(t)} size={13} anchor="end">{t.toFixed(1)}</Txt>
        </g>
      ))}
      {C_MUT_HIGH_TICKS.map((t) => (
        <g key={t}>
          <line x1={xC(0) - 4} x2={xC(0)} y1={yCbHigh(t)} y2={yCbHigh(t)} stroke={BLACK} strokeWidth={1.2} />
          <Txt x={xC(0) - 5} y={yCbHigh(t)} size={13} anchor="end">{t}</Txt>
        </g>
      ))}
      <Txt x={600.7} y={546.7} size={13} anchor="middle" rotate={-90}>pA/pF</Txt>
      <Txt x={632.7} y={635} size={13} anchor="middle">mV</Txt>
      <IVSeries xs={IV_MV} ys={C_MUT_AS} errs={C_MUT_AS_ERR} xS={xC} yS={yCb} color={BLUE} shape="up" s={2.2} />
      <IVSeries xs={IV_MV} ys={C_MUT_S} errs={C_MUT_S_ERR} xS={xC} yS={yCb} color={GREEN} shape="square" s={2.2} />
      <IVSeries xs={IV_MV} ys={C_MUT_CTR} errs={C_MUT_CTR_ERR} xS={xC} yS={yCb} color={BLACK} shape="down" s={2.2} />
      {GROUPS.map((g, i) => (
        <LegendRow key={g} x1={549} x2={563} tx={568} y={505 + i * 15} color={GROUP_COLORS[i]}
          shape={["down", "up", "square"][i]} label={g} size={12} s={2.4} />
      ))}

      {/* ================= Panel D ================= */}
      <Txt x={10} y={650} size={15} weight="bold">D</Txt>
      {[D_INSET_CTR, D_INSET_AS, D_INSET_S].map((tr, k) => (
        <path key={k} d={tracePath(D_INSET_T, tr, xIn, yIn)} fill="none" stroke={GROUP_COLORS[k]} strokeWidth={1.5} />
      ))}
      <rect x={144} y={694} width={24} height={204} fill="none" stroke="#777" strokeWidth={0.9} strokeDasharray="1.2,1.4" />
      {dRows.map((row, r) => {
        const yS = d3.scaleLinear().domain([0, 1]).range([row.base, row.base - 33]);
        return (
          <g key={r}>
            {row.data.map((tr, k) => (
              <path key={k} d={tracePath(D_T, tr, xDt, yS)} fill="none" stroke={BLACK} strokeWidth={1.6} />
            ))}
            <line x1={79} x2={79} y1={dBarV[r][0]} y2={dBarV[r][1]} stroke={BLACK} strokeWidth={1.5} />
            <line x1={83} x2={83 + xDt(500) - xDt(0)} y1={dBarH[r]} y2={dBarH[r]} stroke={BLACK} strokeWidth={1.5} />
            <Txt x={84} y={dMsY[r]} size={13}>500 ms</Txt>
            <Txt x={63} y={dLblY[r]} size={12} anchor="middle" rotate={-90}>1 pA/pF</Txt>
            <Txt x={20} y={dRowLblY[r]} size={16} weight="bold" anchor="middle">{GROUPS[r]}</Txt>
          </g>
        );
      })}
      <line x1={62} x2={220} y1={1037} y2={1037} stroke={BLACK} strokeWidth={1.4} />
      <line x1={xD(0)} x2={xD(0)} y1={953} y2={1059} stroke={BLACK} strokeWidth={1.4} />
      {IV_X_TICKS.map((t) => (
        <g key={t}>
          <line x1={xD(t)} x2={xD(t)} y1={1037} y2={1041} stroke={BLACK} strokeWidth={1.2} />
          <Txt x={xD(t)} y={1049} size={13} anchor="middle">{t}</Txt>
        </g>
      ))}
      {D_Y_TICKS.map((t) => (
        <g key={t}>
          <line x1={xD(0) - 4} x2={xD(0)} y1={yD(t)} y2={yD(t)} stroke={BLACK} strokeWidth={1.2} />
          <Txt x={xD(0) - 5} y={yD(t)} size={13} anchor="end">{t}</Txt>
        </g>
      ))}
      <Txt x={114} y={967} size={13} anchor="middle" rotate={-90}>pA/pF</Txt>
      <Txt x={xD(0)} y={1069} size={13} anchor="middle">mV</Txt>
      <IVSeries xs={IV_MV} ys={D_IV_S} errs={D_IV_S_ERR} xS={xD} yS={yD} color={GREEN} shape="circle" s={2.3} />
      <IVSeries xs={IV_MV} ys={D_IV_AS} errs={D_IV_AS_ERR} xS={xD} yS={yD} color={BLUE} shape="square" s={2.3} />
      <IVSeries xs={IV_MV} ys={D_IV_CTR} errs={D_IV_CTR_ERR} xS={xD} yS={yD} color={BLACK} shape="up" s={2.3} />
      <Txt x={168.5} y={969} size={16} anchor="middle" baseline="auto">*</Txt>
      <circle cx={177.5} cy={961.5} r={2.6} fill="none" stroke={BLACK} strokeWidth={1.2} />
      <circle cx={xD(40)} cy={959} r={2.6} fill="none" stroke={BLACK} strokeWidth={1.2} />
      {GROUPS.map((g, i) => (
        <LegendRow key={g} x1={244} x2={256} tx={261} y={983.3 + i * 12.5} color={GROUP_COLORS[i]}
          shape={["up", "square", "circle"][i]} label={g} size={11.5} s={2.2} />
      ))}

      {/* ================= Panel E ================= */}
      <Txt x={272} y={650} size={15} weight="bold">E</Txt>
      <Txt x={442.7} y={673} size={16} weight="bold" anchor="middle">Baseline</Txt>
      <Txt x={636.7} y={673} size={16} weight="bold" anchor="middle">E4031</Txt>
      {GROUPS.map((g, i) => (
        <Txt key={g} x={318} y={[735, 823, 923][i]} size={16} weight="bold" anchor="middle">{g}</Txt>
      ))}
      {ecg.map((e, k) => {
        const xS = d3.scaleLinear().domain([0, e.msPx]).range([e.x0, e.x0 + 1]);
        const yS = d3.scaleLinear().domain([0, e.uvPx]).range([e.y0, e.y0 - 1]);
        return <path key={k} d={tracePath(e.t, e.v, xS, yS)} fill="none" stroke={e.color} strokeWidth={e.sw} strokeLinejoin="round" />;
      })}
      {eBars.map((b, k) => (
        <g key={k}>
          <path d={`M${b.x},${b.yb - 100 / b.uvPx}L${b.x},${b.yb}L${b.x + 200 / b.msPx},${b.yb}`} fill="none" stroke={BLACK} strokeWidth={1} />
          <Txt x={b.tx} y={b.ty} size={8} anchor="middle" rotate={-90}>100 µV</Txt>
          <Txt x={b.mx} y={b.my} size={8.5}>200 ms</Txt>
        </g>
      ))}

      {/* E4031 effect bars */}
      <line x1={500} x2={500} y1={yE(100)} y2={yE(-50)} stroke={BLACK} strokeWidth={1.4} />
      <line x1={500} x2={643.3} y1={yE(0)} y2={yE(0)} stroke={BLACK} strokeWidth={1.4} />
      {E_Y_TICKS.map((t) => (
        <g key={t}>
          <line x1={495} x2={500} y1={yE(t)} y2={yE(t)} stroke={BLACK} strokeWidth={1.2} />
          <Txt x={494} y={yE(t)} size={15} anchor="end">{t}</Txt>
        </g>
      ))}
      {eGroups.map((vals, g) => {
        const mean = d3.mean(vals) as number;
        const sem = (d3.deviation(vals) as number) / Math.sqrt(vals.length);
        const cx = eCenters[g];
        const color = GROUP_COLORS[g];
        const yTop = yE(Math.max(mean, 0));
        const yBot = yE(Math.min(mean, 0));
        const errEnd = yE(mean >= 0 ? mean + sem : mean - sem);
        const dots = swarm(vals, yE, cx);
        return (
          <g key={g}>
            <rect x={cx - eBarW / 2} y={yTop} width={eBarW} height={yBot - yTop} fill="none" stroke={color} strokeWidth={1.5} />
            <line x1={cx} x2={cx} y1={yE(mean)} y2={errEnd} stroke={color} strokeWidth={1.3} />
            <line x1={cx - 6} x2={cx + 6} y1={errEnd} y2={errEnd} stroke={color} strokeWidth={1.3} />
            {dots.map((p, i) => <circle key={i} cx={p[0]} cy={p[1]} r={2.2} fill={color} />)}
          </g>
        );
      })}
      <Txt x={611} y={1033} size={16} anchor="middle" baseline="auto">*</Txt>
      <circle cx={620} cy={1026} r={2.6} fill="none" stroke={BLACK} strokeWidth={1.2} />
      <Txt x={427} y={1021.7} size={15} anchor="middle">E4031 effect</Txt>
      <Txt x={427} y={1040.7} size={15} anchor="middle">(Δ% QTc)</Txt>
      {GROUPS.map((g, i) => (
        <g key={g}>
          <circle cx={670.7} cy={[1022.7, 1040.7, 1059.3][i]} r={2.2} fill={GROUP_COLORS[i]} />
          <Txt x={681.7} y={[1022.7, 1040.7, 1059.3][i]} size={13}>{g}</Txt>
        </g>
      ))}
    </svg>
  );
}
